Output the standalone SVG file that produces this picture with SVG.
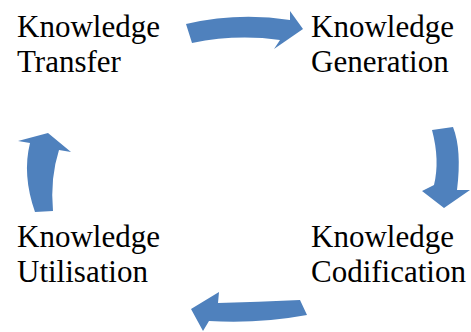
<svg xmlns="http://www.w3.org/2000/svg" width="471" height="332" viewBox="0 0 471 332">
<style>
.a{fill:#4F81BD;stroke:none}
text{font-family:'Liberation Serif',serif;font-size:31px;fill:#000}
</style>
<rect width="471" height="332" fill="#fff"/>
<g id="connectors">
<path class="a" d="M186,24 Q238,12 290,20 L290,11 L303,29 L274,49 L280,40 Q236,34 192,43 Z"/>
<path class="a" d="M432,130 L453,127 Q462,150 457,190 L470,190 L444,208 L422,191 L434,185 Q440,160 432,130 Z"/>
<path class="a" d="M300,300 Q258,302 218,303 L219,292 L191,309 L203,331 L209,321 Q258,324 307,315 Z"/>
<path class="a" d="M35,212 Q22,175 30,143 L18,141 L48,133 L71,152 L59,150 Q50,178 53,211 Z"/>
</g>
<g id="transfer"><text x="17" y="37">Knowledge</text><text x="17" y="72">Transfer</text></g>
<g id="generation"><text x="311" y="37">Knowledge</text><text x="311" y="72">Generation</text></g>
<g id="codification"><text x="311" y="247">Knowledge</text><text x="311" y="282">Codification</text></g>
<g id="utilisation"><text x="17" y="247">Knowledge</text><text x="17" y="282">Utilisation</text></g>
</svg>
